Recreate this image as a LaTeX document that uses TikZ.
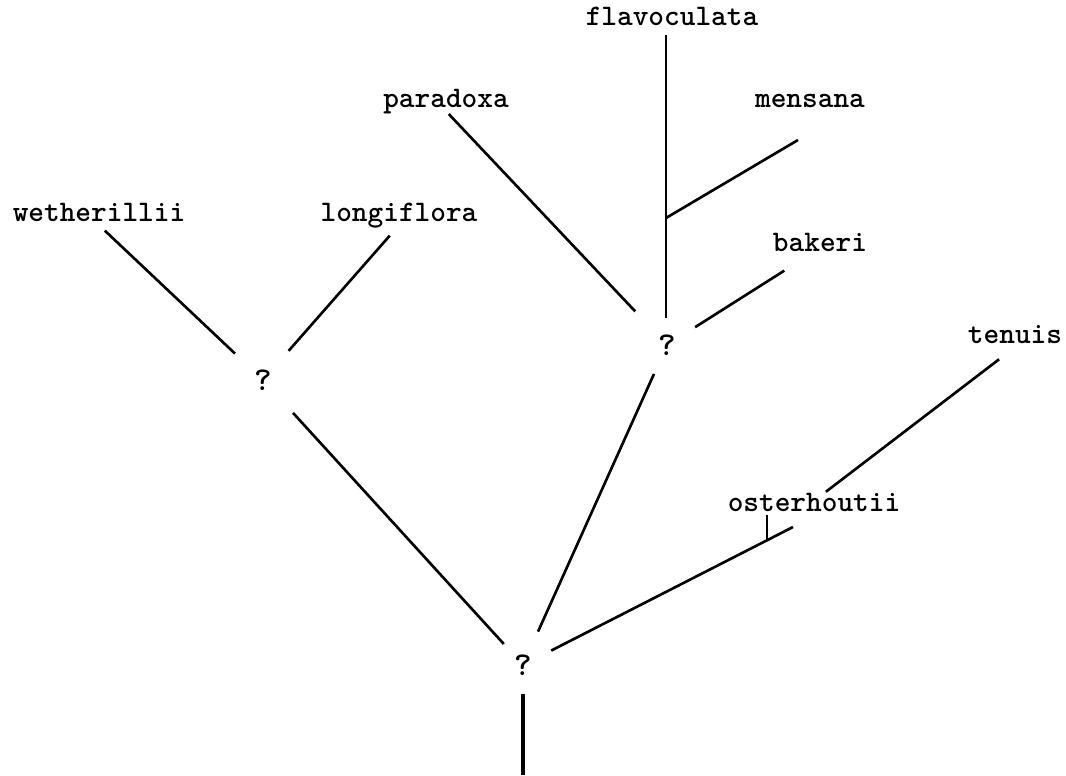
\documentclass[tikz,border=0pt]{standalone}
\usepackage{tikz}

\tikzset{
  taxon/.style={inner sep=0pt, text height=0.6em, text depth=0.17em, font=\fontsize{17}{20}\selectfont\ttfamily\bfseries},
  unk/.style={inner sep=0pt, font=\fontsize{19}{22}\selectfont\ttfamily\bfseries},
  branch/.style={line width=1.5pt},
  trunk/.style={line width=2.3pt}
}

\begin{document}
\begin{tikzpicture}[x=0.02cm,y=-0.02cm]
  \useasboundingbox (0,0) rectangle (1066,775);
  % species names
  \node[taxon] (flav) at (672,22) {flavoculata};
  \node[taxon] (para) at (446,104) {paradoxa};
  \node[taxon] (mens) at (810,104) {mensana};
  \node[taxon] (weth) at (99,218) {wetherillii};
  \node[taxon] (long) at (399,218) {longiflora};
  \node[taxon] (bake) at (820,248) {bakeri};
  \node[taxon] (tenu) at (1015,340) {tenuis};
  \node[taxon] (oste) at (814,508) {osterhoutii};
  % unknown ancestors
  \node[unk] (q1) at (263,380) {?};
  \node[unk] (q2) at (667,345) {?};
  \node[unk] (q3) at (523,665) {?};
  \coordinate (fork) at (666,218);
  \coordinate (mensend) at (798,140);
  \coordinate (ostend) at (793,527);
  \coordinate (tick) at (767,539);
  \coordinate (root) at (523,775);
  % left group
  \draw[branch,shorten <=0.16cm,shorten >=0.52cm] (weth.south) -- (q1);
  \draw[branch,shorten <=0.28cm,shorten >=0.5cm] (long.south) -- (q1);
  \draw[branch,shorten <=0.62cm,shorten >=0.3cm] (q1) -- (q3);
  % middle group
  \draw[branch,shorten <=0.08cm,shorten >=0.66cm] (para.south) -- (q2);
  \draw[branch,shorten <=0.54cm,shorten >=0.12cm] (fork |- q2) -- (fork |- flav.south);
  \draw[branch] (fork) -- (mensend);
  \draw[branch,shorten <=0.45cm,shorten >=0.58cm] (q2) -- (bake);
  \draw[branch,shorten <=0.4cm,shorten >=0.5cm] (q2) -- (q3);
  % right group
  \draw[branch,shorten <=0.43cm] (q3) -- (ostend);
  \draw[branch] (tick) -- (tick |- oste.south);
  \draw[branch,shorten <=0.3cm,shorten >=0.4cm] (oste.north) -- (tenu.south);
  % stem
  \draw[trunk,shorten <=0.36cm] (q3) -- (root);
\end{tikzpicture}
\end{document}
